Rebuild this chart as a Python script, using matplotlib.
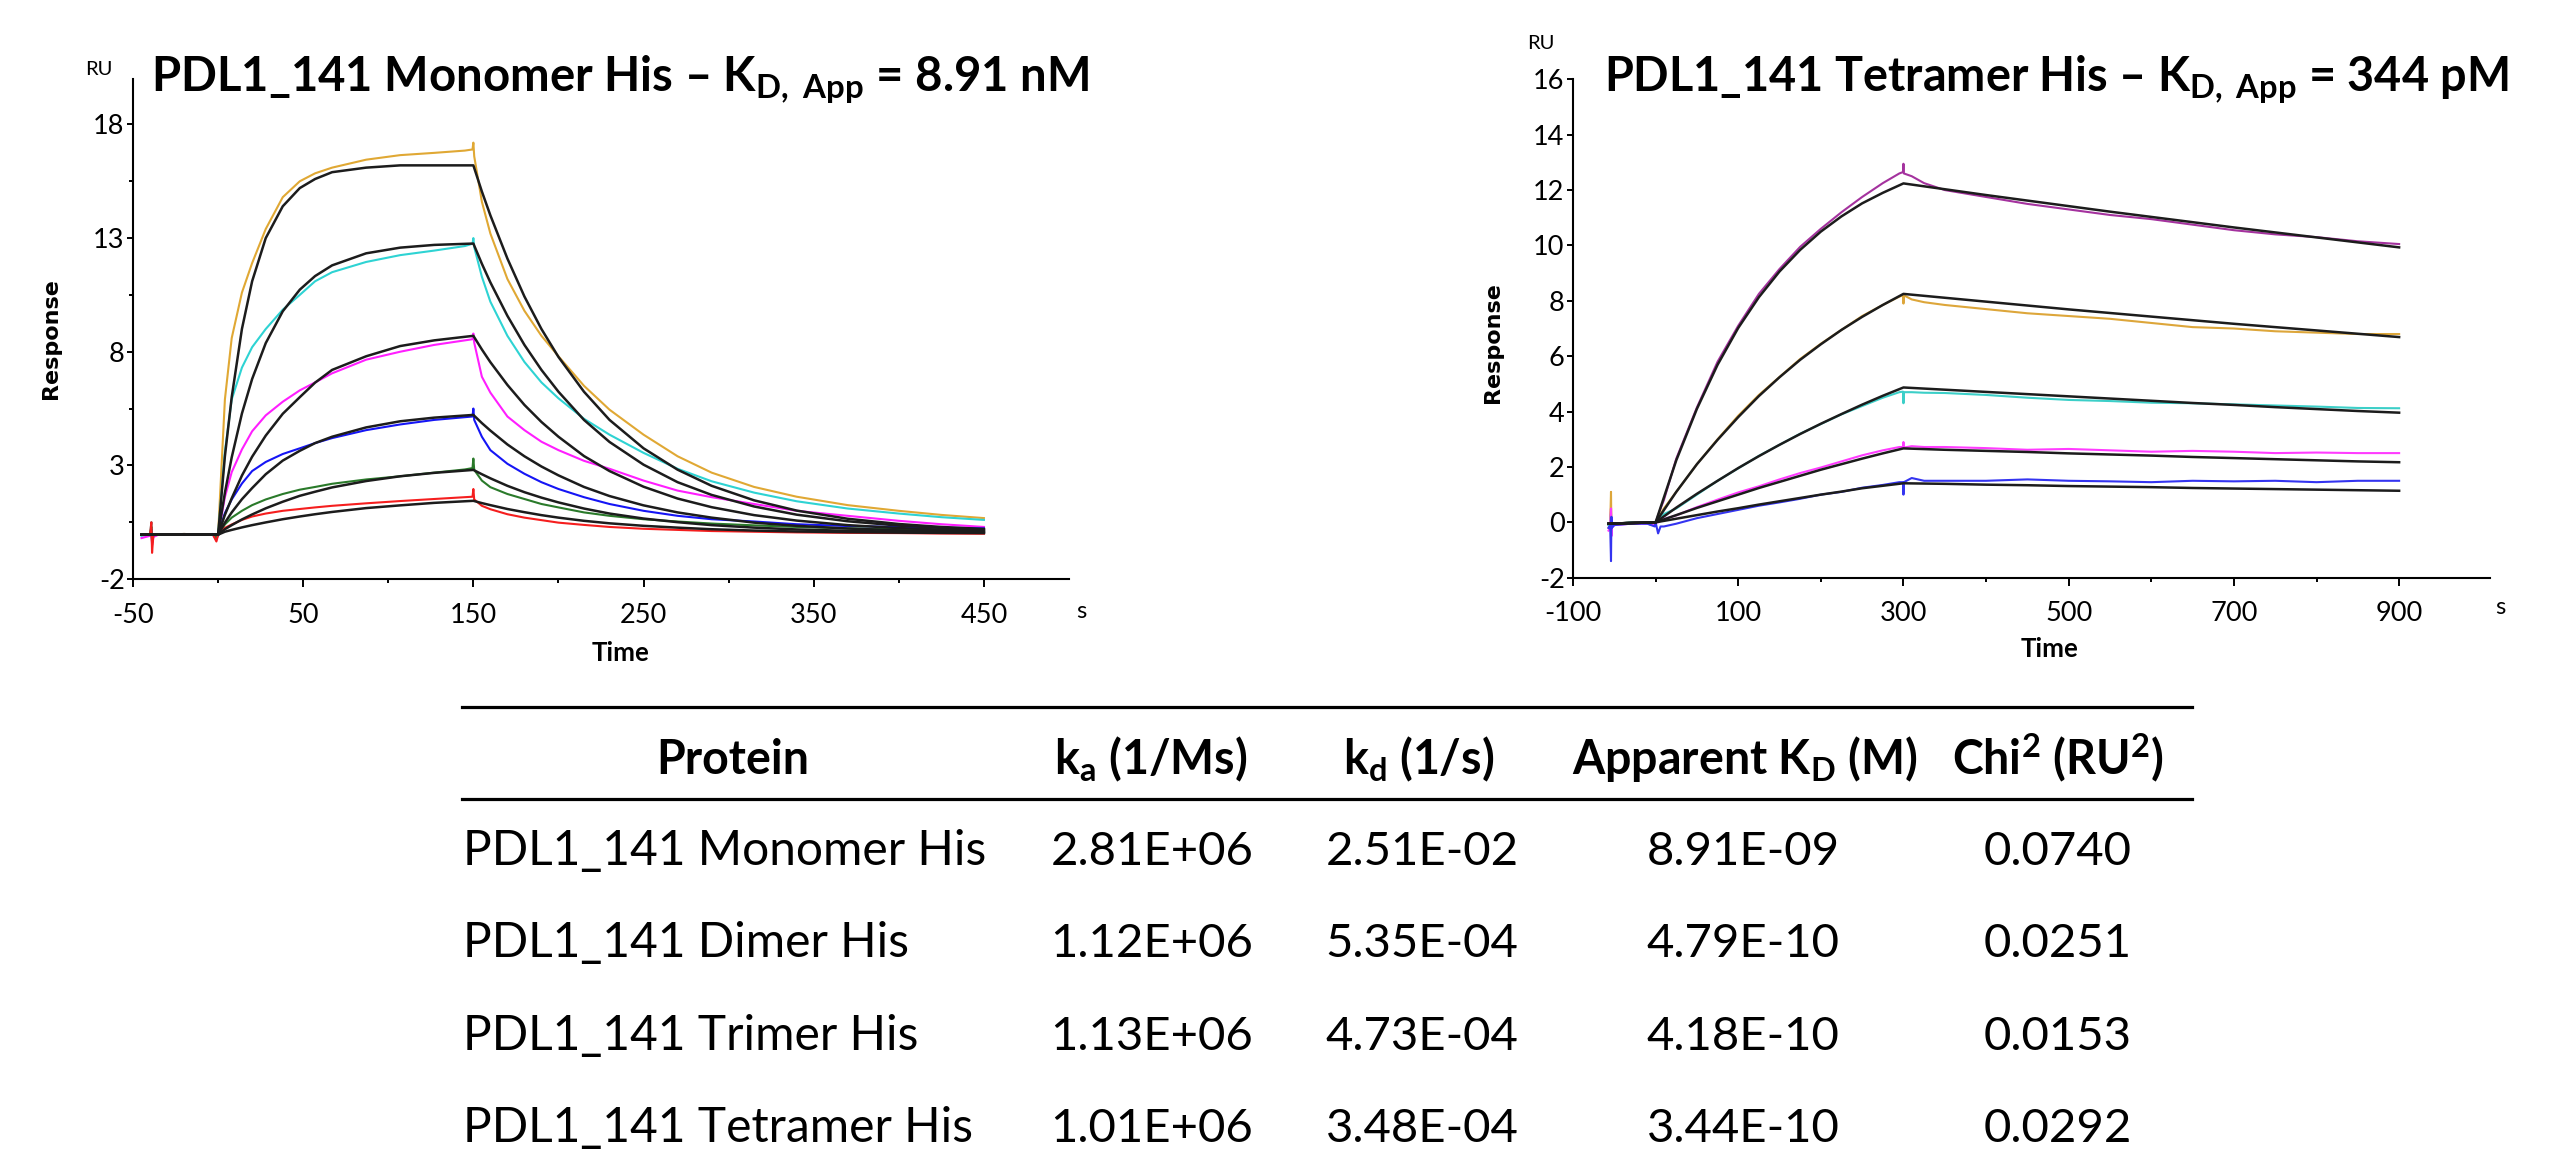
import matplotlib
matplotlib.use('Agg')
import matplotlib.pyplot as plt
from matplotlib.lines import Line2D
from matplotlib.ticker import FixedLocator

plt.rcParams['font.family'] = ['Lato', 'DejaVu Sans']
plt.rcParams['axes.unicode_minus'] = False
plt.rcParams['mathtext.fontset'] = 'custom'
plt.rcParams['mathtext.rm'] = 'Lato'
plt.rcParams['mathtext.bf'] = 'Lato:bold'
plt.rcParams['mathtext.it'] = 'Lato:italic'

W, H = 2568, 1152   # output size in pixels (dpi 100)

# ---------------- Monomer sensorgram (left) ----------------
t_mono_data = [-45, -40, -39.2, -38.8, -38, -35, -20, -3, -1, 0,
               4, 8, 14, 20, 28, 38, 48, 57, 67, 87, 107, 127, 145, 149.5, 150, 150.5,
               155, 160, 170, 180, 190, 200, 215, 230, 250, 270, 290, 315, 340, 370, 400, 425, 450]
mono_gold = [-0.05, -0.05, 0.2, -0.4, -0.05, -0.05, -0.02, -0.05, -0.2, -0.05,
             5.9, 8.6, 10.6, 11.9, 13.4, 14.8, 15.5, 15.85, 16.1, 16.45, 16.65, 16.75, 16.85, 16.9, 17.2, 16.6,
             14.6, 13.2, 11.2, 9.8, 8.7, 7.8, 6.5, 5.45, 4.35, 3.4, 2.68, 2.05, 1.62, 1.25, 1.0, 0.82, 0.68]
mono_cyan = [-0.1, -0.05, 0.5, -0.3, -0.05, -0.05, -0.05, -0.05, -0.25, -0.05,
             3.6, 5.9, 7.3, 8.2, 9.0, 9.85, 10.5, 11.1, 11.5, 11.95, 12.25, 12.45, 12.65, 12.75, 13.0, 12.6,
             11.3, 10.2, 8.7, 7.55, 6.65, 5.95, 5.05, 4.35, 3.55, 2.85, 2.3, 1.8, 1.42, 1.1, 0.88, 0.72, 0.6]
mono_magenta = [-0.2, -0.1, 0.1, -0.5, -0.15, -0.05, -0.05, -0.05, -0.3, -0.05,
                1.6, 2.7, 3.7, 4.5, 5.2, 5.8, 6.3, 6.65, 7.05, 7.65, 8.0, 8.3, 8.5, 8.55, 8.8, 8.4,
                6.9, 6.2, 5.15, 4.55, 4.04, 3.67, 3.2, 2.85, 2.33, 1.89, 1.6, 1.3, 1.0, 0.78, 0.56, 0.41, 0.29]
mono_blue = [-0.05, -0.05, 0.2, -0.3, -0.05, -0.05, -0.05, -0.02, -0.2, -0.05,
             0.9, 1.5, 2.2, 2.75, 3.15, 3.5, 3.75, 3.98, 4.2, 4.55, 4.8, 5.0, 5.12, 5.15, 5.5, 5.0,
             4.26, 3.67, 3.07, 2.63, 2.26, 1.96, 1.6, 1.3, 1.0, 0.78, 0.63, 0.53, 0.41, 0.33, 0.29, 0.26, 0.23]
mono_green = [-0.05, -0.05, 0.3, -0.4, -0.05, -0.05, -0.02, -0.05, -0.2, -0.05,
              0.4, 0.7, 1.0, 1.25, 1.5, 1.74, 1.93, 2.05, 2.19, 2.38, 2.52, 2.68, 2.82, 2.88, 3.3, 2.8,
              2.33, 2.04, 1.74, 1.52, 1.3, 1.15, 0.93, 0.78, 0.63, 0.53, 0.44, 0.36, 0.29, 0.23, 0.19, 0.16, 0.14]
mono_red = [-0.05, -0.05, 0.5, -0.85, -0.05, -0.05, -0.02, -0.05, -0.35, -0.05,
            0.25, 0.4, 0.6, 0.75, 0.88, 1.0, 1.08, 1.15, 1.22, 1.33, 1.43, 1.52, 1.6, 1.62, 1.96, 1.5,
            1.22, 1.07, 0.85, 0.7, 0.59, 0.48, 0.38, 0.29, 0.21, 0.16, 0.11, 0.08, 0.05, 0.03, 0.02, 0.0, -0.01]

t_mono_fit = [-45, 0, 4, 8, 14, 20, 28, 38, 48, 57, 67, 87, 107, 127, 150,
              155, 160, 170, 180, 190, 200, 215, 230, 250, 270, 290, 315, 340, 370, 400, 425, 450]
fit_mono_gold = [-0.05, -0.05, 3.4, 6.0, 9.0, 11.1, 13.0, 14.4, 15.2, 15.6, 15.9, 16.1, 16.2, 16.2, 16.2,
                 15.05, 14.0, 12.1, 10.43, 9.0, 7.77, 6.24, 5.0, 3.75, 2.81, 2.1, 1.46, 1.01, 0.65, 0.42, 0.29, 0.2]
fit_mono_cyan = [-0.05, -0.05, 1.8, 3.35, 5.28, 6.8, 8.38, 9.78, 10.73, 11.33, 11.8, 12.33, 12.58, 12.7, 12.76,
                 11.87, 11.05, 9.58, 8.3, 7.2, 6.24, 5.0, 4.03, 3.03, 2.26, 1.7, 1.19, 0.83, 0.54, 0.35, 0.25, 0.17]
fit_mono_magenta = [-0.05, -0.05, 0.82, 1.55, 2.55, 3.38, 4.31, 5.27, 6.0, 6.64, 7.2, 7.8, 8.25, 8.5, 8.7,
                    8.1, 7.54, 6.54, 5.66, 4.91, 4.26, 3.41, 2.75, 2.06, 1.54, 1.16, 0.81, 0.57, 0.37, 0.24, 0.17, 0.12]
fit_mono_blue = [-0.05, -0.05, 0.48, 0.93, 1.51, 2.0, 2.61, 3.21, 3.64, 3.98, 4.26, 4.67, 4.94, 5.1, 5.22,
                 4.86, 4.53, 3.92, 3.4, 2.95, 2.56, 2.05, 1.65, 1.24, 0.93, 0.7, 0.48, 0.34, 0.22, 0.14, 0.1, 0.07]
fit_mono_green = [-0.05, -0.05, 0.19, 0.37, 0.62, 0.84, 1.11, 1.4, 1.66, 1.84, 2.03, 2.31, 2.52, 2.67, 2.8,
                  2.61, 2.43, 2.1, 1.82, 1.58, 1.37, 1.1, 0.88, 0.66, 0.5, 0.37, 0.26, 0.18, 0.12, 0.08, 0.05, 0.04]
fit_mono_red = [-0.05, -0.05, 0.08, 0.16, 0.27, 0.37, 0.49, 0.63, 0.75, 0.85, 0.95, 1.12, 1.24, 1.35, 1.44,
                1.34, 1.25, 1.08, 0.94, 0.81, 0.7, 0.56, 0.45, 0.34, 0.26, 0.19, 0.13, 0.09, 0.06, 0.04, 0.03, 0.02]

# ---------------- Tetramer sensorgram (right) ----------------
t_tetra_data = [-57, -55, -54, -53.5, -53, -50, -30, -10, -1, 0,
                3, 6, 10, 25, 50, 75, 100, 125, 150, 175, 200, 225, 250, 275, 295, 299.5, 300, 300.5,
                310, 325, 350, 400, 450, 500, 550, 600, 650, 700, 750, 800, 850, 900]
tetra_purple = [-0.2, -0.1, 0.5, -0.4, -0.1, -0.05, 0.0, -0.05, -0.1, 0.0,
                0.25, 0.5, 0.8, 2.3, 4.15, 5.8, 7.1, 8.25, 9.15, 9.95, 10.6, 11.2, 11.75, 12.25, 12.6, 12.65, 12.95, 12.6,
                12.5, 12.25, 12.0, 11.75, 11.5, 11.3, 11.1, 10.95, 10.75, 10.55, 10.4, 10.3, 10.15, 10.05]
tetra_gold = [-0.1, -0.1, 1.1, -0.3, -0.1, -0.05, 0.0, -0.05, -0.1, 0.0,
              0.15, 0.3, 0.5, 1.1, 2.1, 3.0, 3.85, 4.6, 5.25, 5.9, 6.45, 6.95, 7.45, 7.85, 8.15, 8.2, 7.9, 8.2,
              8.05, 7.95, 7.85, 7.7, 7.55, 7.45, 7.35, 7.2, 7.05, 7.0, 6.9, 6.85, 6.8, 6.8]
tetra_cyan = [-0.1, -0.1, 0.3, -0.3, -0.1, -0.05, 0.0, -0.05, -0.1, 0.0,
              0.05, 0.15, 0.3, 0.5, 1.0, 1.5, 1.95, 2.4, 2.8, 3.2, 3.55, 3.9, 4.2, 4.5, 4.7, 4.72, 4.3, 4.7,
              4.7, 4.68, 4.67, 4.6, 4.5, 4.42, 4.38, 4.32, 4.3, 4.26, 4.22, 4.18, 4.13, 4.12]
tetra_magenta = [-0.3, -0.2, 0.5, -0.5, -0.2, -0.1, -0.05, -0.05, -0.1, 0.0,
                 0.0, 0.05, 0.12, 0.25, 0.55, 0.82, 1.08, 1.3, 1.55, 1.78, 1.98, 2.2, 2.42, 2.6, 2.72, 2.72, 2.9, 2.7,
                 2.75, 2.72, 2.72, 2.68, 2.62, 2.65, 2.6, 2.55, 2.58, 2.55, 2.5, 2.52, 2.5, 2.5]
tetra_blue = [-0.2, -0.1, -1.4, 0.2, -0.2, -0.1, -0.05, -0.05, -0.15, 0.0,
              -0.4, -0.15, -0.15, -0.05, 0.15, 0.3, 0.45, 0.6, 0.72, 0.85, 1.0, 1.1, 1.25, 1.35, 1.45, 1.45, 1.0, 1.45,
              1.6, 1.5, 1.5, 1.5, 1.55, 1.5, 1.48, 1.45, 1.5, 1.48, 1.5, 1.45, 1.5, 1.5]

t_tetra_fit = [-57, 0, 25, 50, 75, 100, 125, 150, 175, 200, 225, 250, 275, 300,
               350, 400, 450, 500, 550, 600, 650, 700, 750, 800, 850, 900]
fit_tetra_purple = [-0.05, 0, 2.24, 4.1, 5.69, 7.02, 8.13, 9.06, 9.84, 10.5, 11.05, 11.52, 11.9, 12.24,
                    12.03, 11.82, 11.62, 11.42, 11.22, 11.03, 10.84, 10.65, 10.47, 10.29, 10.11, 9.93]
fit_tetra_gold = [-0.05, 0, 1.1, 2.1, 2.98, 3.8, 4.56, 5.24, 5.87, 6.43, 6.95, 7.42, 7.85, 8.25,
                  8.11, 7.97, 7.83, 7.69, 7.56, 7.43, 7.3, 7.17, 7.05, 6.93, 6.81, 6.69]
fit_tetra_cyan = [-0.05, 0, 0.53, 1.03, 1.5, 1.96, 2.39, 2.8, 3.19, 3.56, 3.91, 4.25, 4.57, 4.87,
                  4.79, 4.71, 4.63, 4.55, 4.47, 4.39, 4.31, 4.24, 4.16, 4.09, 4.02, 3.96]
fit_tetra_magenta = [-0.05, 0, 0.26, 0.52, 0.76, 1.0, 1.24, 1.46, 1.68, 1.9, 2.1, 2.3, 2.49, 2.67,
                     2.62, 2.58, 2.54, 2.49, 2.45, 2.41, 2.36, 2.32, 2.28, 2.24, 2.2, 2.17]
fit_tetra_blue = [-0.05, 0, 0.13, 0.26, 0.39, 0.51, 0.64, 0.76, 0.88, 1.0, 1.11, 1.23, 1.32, 1.41,
                  1.39, 1.36, 1.34, 1.31, 1.29, 1.27, 1.24, 1.22, 1.2, 1.18, 1.16, 1.14]

# ---------------- Kinetics table ----------------
table_header = ['Protein', r'k$_{\mathbf{a}}$ (1/Ms)', r'k$_{\mathbf{d}}$ (1/s)',
                r'Apparent K$_{\mathbf{D}}$ (M)', r'Chi$^{\mathbf{2}}$ (RU$^{\mathbf{2}}$)']
proteins = ['PDL1_141 Monomer His', 'PDL1_141 Dimer His', 'PDL1_141 Trimer His', 'PDL1_141 Tetramer His']
ka_vals = ['2.81E+06', '1.12E+06', '1.13E+06', '1.01E+06']
kd_vals = ['2.51E-02', '5.35E-04', '4.73E-04', '3.48E-04']
kd_app_vals = ['8.91E-09', '4.79E-10', '4.18E-10', '3.44E-10']
chi2_vals = ['0.0740', '0.0251', '0.0153', '0.0292']

mono_colors = ['#E0A834', '#2ED3D3', '#FF1EFF', '#1515F5', '#2A7A2A', '#F51E1E']
tetra_colors = ['#A4329E', '#DDA63A', '#3CCFC8', '#FF3CFF', '#3434F0']

FIT_COLOR = '#1c1c1c'
TICK_FS = 19.5


def fx(px):
    return px / W


def fy(py):
    return 1 - py / H


def style_axes(ax, xlim, ylim, xmaj, xmin, ymaj, ymin):
    ax.set_xlim(*xlim)
    ax.set_ylim(*ylim)
    for side in ('top', 'right'):
        ax.spines[side].set_visible(False)
    for side in ('left', 'bottom'):
        ax.spines[side].set_linewidth(1.5)
    ax.xaxis.set_major_locator(FixedLocator(xmaj))
    ax.xaxis.set_minor_locator(FixedLocator(xmin))
    ax.yaxis.set_major_locator(FixedLocator(ymaj))
    ax.yaxis.set_minor_locator(FixedLocator(ymin))
    ax.tick_params(axis='x', which='major', length=6, width=1.4, pad=11, labelsize=TICK_FS)
    ax.tick_params(axis='x', which='minor', length=2.8, width=1.4)
    ax.tick_params(axis='y', which='major', length=4, width=1.4, pad=2, labelsize=TICK_FS)
    ax.tick_params(axis='y', which='minor', length=2.8, width=1.4)
    ax.patch.set_alpha(0)


fig = plt.figure(figsize=(W / 100, H / 100), dpi=100)

# left panel
ax1 = fig.add_axes([fx(133), fy(579), fx(1069 - 133), (579 - 79) / H])
for vals, c in zip([mono_gold, mono_cyan, mono_magenta, mono_blue, mono_green, mono_red], mono_colors):
    ax1.plot(t_mono_data, vals, color=c, lw=1.5, zorder=2)
for vals in [fit_mono_gold, fit_mono_cyan, fit_mono_magenta, fit_mono_blue, fit_mono_green, fit_mono_red]:
    ax1.plot(t_mono_fit, vals, color=FIT_COLOR, lw=1.8, zorder=3)
style_axes(ax1, (-50, 500), (-2, 20),
           [-50, 50, 150, 250, 350, 450], [0, 100, 200, 300, 400],
           [-2, 3, 8, 13, 18], [0.5, 5.5, 10.5, 15.5])

# right panel
ax2 = fig.add_axes([fx(1573), fy(577.7), fx(2490 - 1573), (577.7 - 79.3) / H])
for vals, c in zip([tetra_purple, tetra_gold, tetra_cyan, tetra_magenta, tetra_blue], tetra_colors):
    ax2.plot(t_tetra_data, vals, color=c, lw=1.5, zorder=2)
for vals in [fit_tetra_purple, fit_tetra_gold, fit_tetra_cyan, fit_tetra_magenta, fit_tetra_blue]:
    ax2.plot(t_tetra_fit, vals, color=FIT_COLOR, lw=1.8, zorder=3)
style_axes(ax2, (-100, 1010), (-2, 16),
           [-100, 100, 300, 500, 700, 900], [0, 200, 400, 600, 800],
           list(range(-2, 17, 2)), [])

# titles
fig.text(fx(151), fy(91), r'PDL1_141 Monomer His – K$_{\mathbf{D,\ App}}$ = 8.91 nM',
         fontsize=34, fontweight='bold', ha='left', va='baseline')
fig.text(fx(1604), fy(91), r'PDL1_141 Tetramer His – K$_{\mathbf{D,\ App}}$ = 344 pM',
         fontsize=33.7, fontweight='bold', ha='left', va='baseline')

# axis annotations
for x, y in [(99, 75), (1541, 49)]:
    fig.text(fx(x), fy(y), 'RU', fontsize=14.5, ha='center', va='baseline')
for x, y in [(1081, 618), (2500, 614)]:
    fig.text(fx(x), fy(y), 's', fontsize=17, ha='center', va='baseline')
for x, y in [(621, 661), (2050, 657)]:
    fig.text(fx(x), fy(y), 'Time', fontsize=18.6, fontweight='bold', ha='center', va='baseline')
for x, y in [(51, 339), (1493, 343)]:
    fig.text(fx(x), fy(y), 'Response', fontsize=16, fontweight='bold', family='DejaVu Sans',
             rotation=90, ha='center', va='center')

# table
for y in (707, 799):
    fig.add_artist(Line2D([fx(462), fx(2192)], [fy(y), fy(y)], transform=fig.transFigure,
                          color='black', lw=2.3))
head_x = [733, 1151, 1419, 1745, 2058]
val_x = [1152, 1422, 1743, 2058]
for x, label in zip(head_x, table_header):
    fig.text(fx(x), fy(774), label, fontsize=33.5, fontweight='bold', ha='center', va='baseline')
row_base = [865, 957, 1050, 1142]
for i, yb in enumerate(row_base):
    fig.text(fx(463), fy(yb), proteins[i], fontsize=34.5, ha='left', va='baseline')
    for x, col in zip(val_x, [ka_vals, kd_vals, kd_app_vals, chi2_vals]):
        fig.text(fx(x), fy(yb), col[i], fontsize=34, ha='center', va='baseline')

fig.savefig('out.png', dpi=100)
